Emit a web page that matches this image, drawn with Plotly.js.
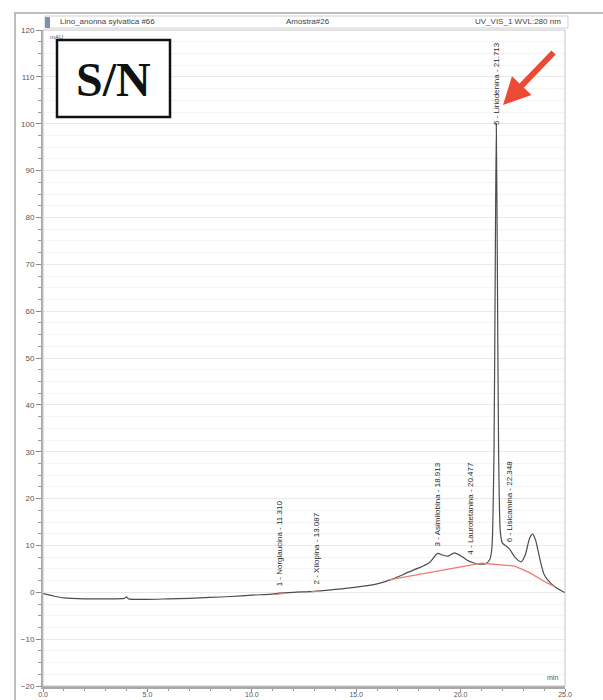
<!DOCTYPE html>
<html>
<head>
<meta charset="utf-8">
<script src="https://cdn.plot.ly/plotly-3.0.1.min.js"></script>
<style>
  html, body { margin: 0; padding: 0; background: #fff; }
  #chart { width: 603px; height: 700px; }
</style>
</head>
<body>
<div id="chart"></div>
<script>
// Chromatogram trace: retention time (min) and absorbance (mAU)
const timeMin = [0.0, 0.5, 1.0, 2.0, 3.0, 3.9, 4.0, 4.1, 5.0, 6.0, 7.0, 8.0, 9.0, 10.0, 11.0, 11.3, 12.0, 13.0, 14.0,
  15.0, 16.0, 16.6, 17.0, 17.5, 18.0, 18.5, 18.9, 19.1, 19.4, 19.7, 20.0, 20.3, 20.6, 20.9, 21.2, 21.4, 21.5,
  21.6, 21.66, 21.71, 21.76, 21.82, 21.9, 22.0, 22.2, 22.35, 22.6, 22.9, 23.1, 23.3, 23.45, 23.6, 23.8, 24.0,
  24.3, 24.6, 25.0];
const absorbance = [-0.3, -0.8, -1.2, -1.4, -1.4, -1.3, -1.0, -1.4, -1.5, -1.4, -1.3, -1.1, -0.9, -0.6, -0.4, -0.2, 0.0, 0.2, 0.6,
  1.1, 1.8, 2.6, 3.3, 4.3, 5.2, 6.3, 8.3, 8.0, 7.7, 8.4, 7.8, 6.9, 6.3, 6.0, 6.1, 7.0, 9.5,
  30, 70, 100, 70, 30, 13, 10.5, 9.8, 9.2, 7.5, 6.5, 8.0, 11.5, 12.4, 11.0, 7.0, 3.8,
  2.0, 0.9, -0.1];

// Integration baselines (null separates segments)
const baseTime = [11.1, 11.6, null, 12.85, 13.3, null, 16.5, 21.0, 22.6, 23.3, 24.1, 24.5];
const baseValue = [-0.5, -0.2, null, 0.1, 0.3, null, 2.6, 6.2, 5.6, 4.2, 2.1, 1.2];

// Identified peaks
const peakNumbers = ['1', '2', '3', '4', '5', '6'];
const peakNames = ['Norglaucina', 'Xilopina', 'Asimilobina', 'Laurotetanina', 'Liriodenina', 'Lisicamina'];
const peakTimes = [11.310, 13.087, 18.913, 20.477, 21.713, 22.348];

// Axis ticks
const xTicks = [0, 5, 10, 15, 20, 25];
const xTickText = ['0.0', '5.0', '10.0', '15.0', '20.0', '25.0'];
const yTicks = [-20, -10, 0, 10, 20, 30, 40, 50, 60, 70, 80, 90, 100, 110, 120];

// Header strings
const headerLeft = 'Lino_anonna sylvatica #66';
const headerMid = 'Amostra#26';
const headerRight = 'UV_VIS_1 WVL:280 nm';

// Plot area in pixels
const W = 603, H = 700;
const M = { l: 43, r: 38, t: 30, b: 14 };
const PW = W - M.l - M.r, PH = H - M.t - M.b;
const PX = p => (p - M.l) / PW;
const PY = p => (H - M.b - p) / PH;

function interp(t) {
  for (let i = 0; i < timeMin.length - 1; i++) {
    if (t >= timeMin[i] && t <= timeMin[i + 1]) {
      const f = (t - timeMin[i]) / (timeMin[i + 1] - timeMin[i]);
      return absorbance[i] + f * (absorbance[i + 1] - absorbance[i]);
    }
  }
  return 0;
}

const font = 'Liberation Sans, Arial, sans-serif';

const traces = [
  {
    x: timeMin, y: absorbance, type: 'scatter', mode: 'lines',
    line: { color: '#4d4d4d', width: 1.2, shape: 'spline', smoothing: 0.6 },
    hoverinfo: 'skip'
  },
  {
    x: baseTime, y: baseValue, type: 'scatter', mode: 'lines',
    line: { color: '#f07a72', width: 1.3 }, connectgaps: false,
    hoverinfo: 'skip'
  }
];

const annotations = peakTimes.map((t, i) => ({
  x: t, y: interp(t), xref: 'x', yref: 'y',
  text: peakNumbers[i] + ' - ' + peakNames[i] + ' - ' + t.toFixed(3),
  textangle: -90, showarrow: false, xanchor: 'center', yanchor: 'bottom',
  yshift: 5, font: { family: font, size: 8, color: '#2a2a2a' }
}));

annotations.push(
  { xref: 'paper', yref: 'paper', x: PX(58), y: PY(22), text: headerLeft, showarrow: false,
    xanchor: 'left', yanchor: 'middle', font: { family: font, size: 8, color: '#444' } },
  { xref: 'paper', yref: 'paper', x: PX(284), y: PY(22), text: headerMid, showarrow: false,
    xanchor: 'left', yanchor: 'middle', font: { family: font, size: 8, color: '#444' } },
  { xref: 'paper', yref: 'paper', x: PX(563), y: PY(22), text: headerRight, showarrow: false,
    xanchor: 'right', yanchor: 'middle', font: { family: font, size: 8, color: '#444' } },
  { xref: 'paper', yref: 'paper', x: PX(48), y: PY(37), text: 'mAU', showarrow: false,
    xanchor: 'left', yanchor: 'middle', font: { family: font, size: 6, color: '#555' } },
  { xref: 'paper', yref: 'paper', x: PX(560), y: PY(677), text: 'min', showarrow: false,
    xanchor: 'right', yanchor: 'middle', font: { family: font, size: 7, color: '#555' } },
  { xref: 'paper', yref: 'paper', x: PX(113), y: PY(79), text: '<b>S/N</b>', showarrow: false,
    xanchor: 'center', yanchor: 'middle', font: { family: 'Liberation Serif, Times New Roman, serif', size: 48, color: '#111' } },
  { xref: 'paper', yref: 'paper', x: PX(503), y: PY(105), text: '', showarrow: true,
    ax: 52, ay: -54, arrowhead: 2, arrowsize: 0.9, arrowwidth: 6, arrowcolor: '#ec4a35', standoff: 0 }
);

const shapes = [
  // outer frame
  { type: 'line', xref: 'paper', yref: 'paper', x0: PX(15), x1: PX(15), y0: PY(13), y1: PY(700),
    line: { color: '#bdbdbd', width: 2 } },
  { type: 'line', xref: 'paper', yref: 'paper', x0: PX(14), x1: PX(603), y0: PY(13), y1: PY(13),
    line: { color: '#bdbdbd', width: 2 } },
  // header bar
  { type: 'rect', xref: 'paper', yref: 'paper', x0: PX(45), x1: PX(568), y0: PY(16), y1: PY(28),
    line: { color: '#cfcfcf', width: 1 }, fillcolor: '#fff' },
  { type: 'rect', xref: 'paper', yref: 'paper', x0: PX(45), x1: PX(50), y0: PY(17), y1: PY(28),
    line: { width: 0 }, fillcolor: '#7d93ad' },
  // plot border
  { type: 'rect', xref: 'paper', yref: 'paper', x0: 0, x1: 1, y0: 0, y1: 1,
    line: { color: '#c4c4c4', width: 1 } },
  // S/N box
  { type: 'rect', xref: 'paper', yref: 'paper', x0: PX(57), x1: PX(170), y0: PY(40), y1: PY(117),
    line: { color: '#111', width: 2.5 }, fillcolor: '#fff', layer: 'above' }
];

const layout = {
  width: W, height: H,
  margin: M,
  paper_bgcolor: '#fff', plot_bgcolor: '#fff',
  showlegend: false,
  xaxis: {
    range: [0, 25], tickvals: xTicks, ticktext: xTickText,
    showgrid: false, zeroline: false,
    showline: true, linecolor: '#a8a8a8', linewidth: 3,
    ticks: 'outside', ticklen: 3, tickcolor: '#888', tickwidth: 1,
    minor: { dtick: 1, ticks: 'outside', ticklen: 2, tickcolor: '#999' },
    ticklabelstandoff: -3,
    tickfont: { family: font, size: 7, color: '#555' },
    automargin: false
  },
  yaxis: {
    range: [-20, 120], tickvals: yTicks,
    showgrid: true, gridcolor: '#e9e9e9', gridwidth: 1, zeroline: false,
    showline: true, linecolor: '#a8a8a8', linewidth: 2,
    ticks: 'outside', ticklen: 5, tickcolor: '#888', tickwidth: 1,
    minor: { dtick: 2.5, tick0: 0, ticks: 'outside', ticklen: 3, tickcolor: '#999', showgrid: true, gridcolor: '#f4f4f4' },
    tickfont: { family: font, size: 8, color: '#555' },
    automargin: false
  },
  shapes: shapes,
  annotations: annotations
};

Plotly.newPlot('chart', traces, layout, { displayModeBar: false, staticPlot: true });
</script>
</body>
</html>
